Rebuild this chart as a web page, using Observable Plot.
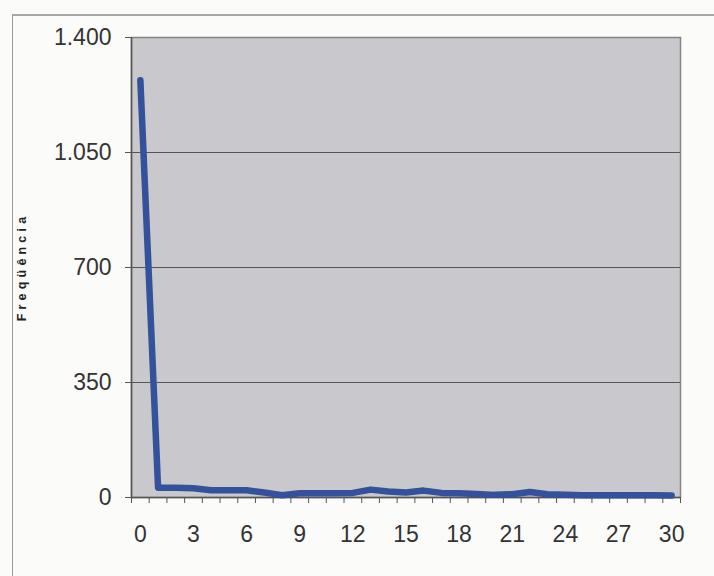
<!DOCTYPE html>
<html>
<head>
<meta charset="utf-8">
<script src="https://cdn.jsdelivr.net/npm/d3@7"></script>
<script src="https://cdn.jsdelivr.net/npm/@observablehq/plot@0.6"></script>
<style>
  html, body { margin: 0; padding: 0; background: #fbfbfa; }
  #wrap { position: relative; width: 714px; height: 576px; overflow: hidden; }
  #border { position: absolute; left: 12px; top: 14px; width: 760px; height: 620px;
            border-left: 1px solid #9a9a9a; border-top: 2px solid #a8a8a8; }
  #chart { position: absolute; left: 0; top: 0; }
  #ylabel { position: absolute; left: 22px; top: 267px; transform: translate(-50%, -50%) rotate(-90deg);
            font: bold 12.5px "Liberation Sans", Arial, sans-serif; letter-spacing: 4.2px; color: #222; white-space: nowrap; }
</style>
</head>
<body>
<div id="wrap">
  <div id="border"></div>
  <div id="chart"></div>
  <div id="ylabel">Freqüência</div>
</div>
<script>
// Categories (x) and frequencies (y)
const categories = [0,1,2,3,4,5,6,7,8,9,10,11,12,13,14,15,16,17,18,19,20,21,22,23,24,25,26,27,28,29,30];
const frequencies = [1270,30,30,28,22,22,22,15,7,13,13,13,14,24,18,15,21,14,13,11,8,10,17,10,8,7,7,7,7,7,6];
const xTickLabels = [0,3,6,9,12,15,18,21,24,27,30];
const yTickLabels = [0,350,700,1050,1400];

const data = categories.map((c, i) => ({x: c, y: frequencies[i]}));
const boundaries = categories.map(c => c - 0.5).concat([categories[categories.length - 1] + 0.5]);
const ptBR = d3.formatLocale({decimal: ",", thousands: ".", grouping: [3], currency: ["R$", ""]});
const fmt = ptBR.format(",");

const chart = Plot.plot({
  width: 714,
  height: 576,
  marginLeft: 131,
  marginRight: 34,
  marginTop: 37,
  marginBottom: 79,
  style: {background: "transparent", fontFamily: "'Liberation Sans', Arial, sans-serif", fontSize: "23px", color: "#333"},
  x: {domain: [boundaries[0], boundaries[boundaries.length - 1]]},
  y: {domain: [0, 1400]},
  marks: [
    Plot.frame({fill: "#c9c9cd", stroke: "#858585", strokeWidth: 1.5}),
    Plot.gridY(yTickLabels.slice(1, -1), {stroke: "#555", strokeOpacity: 1, strokeWidth: 1.2}),
    Plot.axisY(yTickLabels, {tickSize: 6, tickPadding: 14, tickFormat: fmt, stroke: "#555", label: null, fontSize: 23}),
    Plot.axisX(boundaries, {tickSize: 6, tickFormat: () => "", stroke: "#555", label: null}),
    Plot.axisX(xTickLabels, {tickSize: 0, tickPadding: 28, label: null, fontSize: 23}),
    Plot.ruleX([boundaries[0]], {stroke: "#555", strokeWidth: 1.5}),
    Plot.ruleY([0], {stroke: "#555", strokeWidth: 1.5}),
    Plot.line(data, {x: "x", y: "y", stroke: "#34519b", strokeWidth: 6.5, strokeLinejoin: "round", strokeLinecap: "round"})
  ]
});
document.getElementById("chart").appendChild(chart);
</script>
</body>
</html>
